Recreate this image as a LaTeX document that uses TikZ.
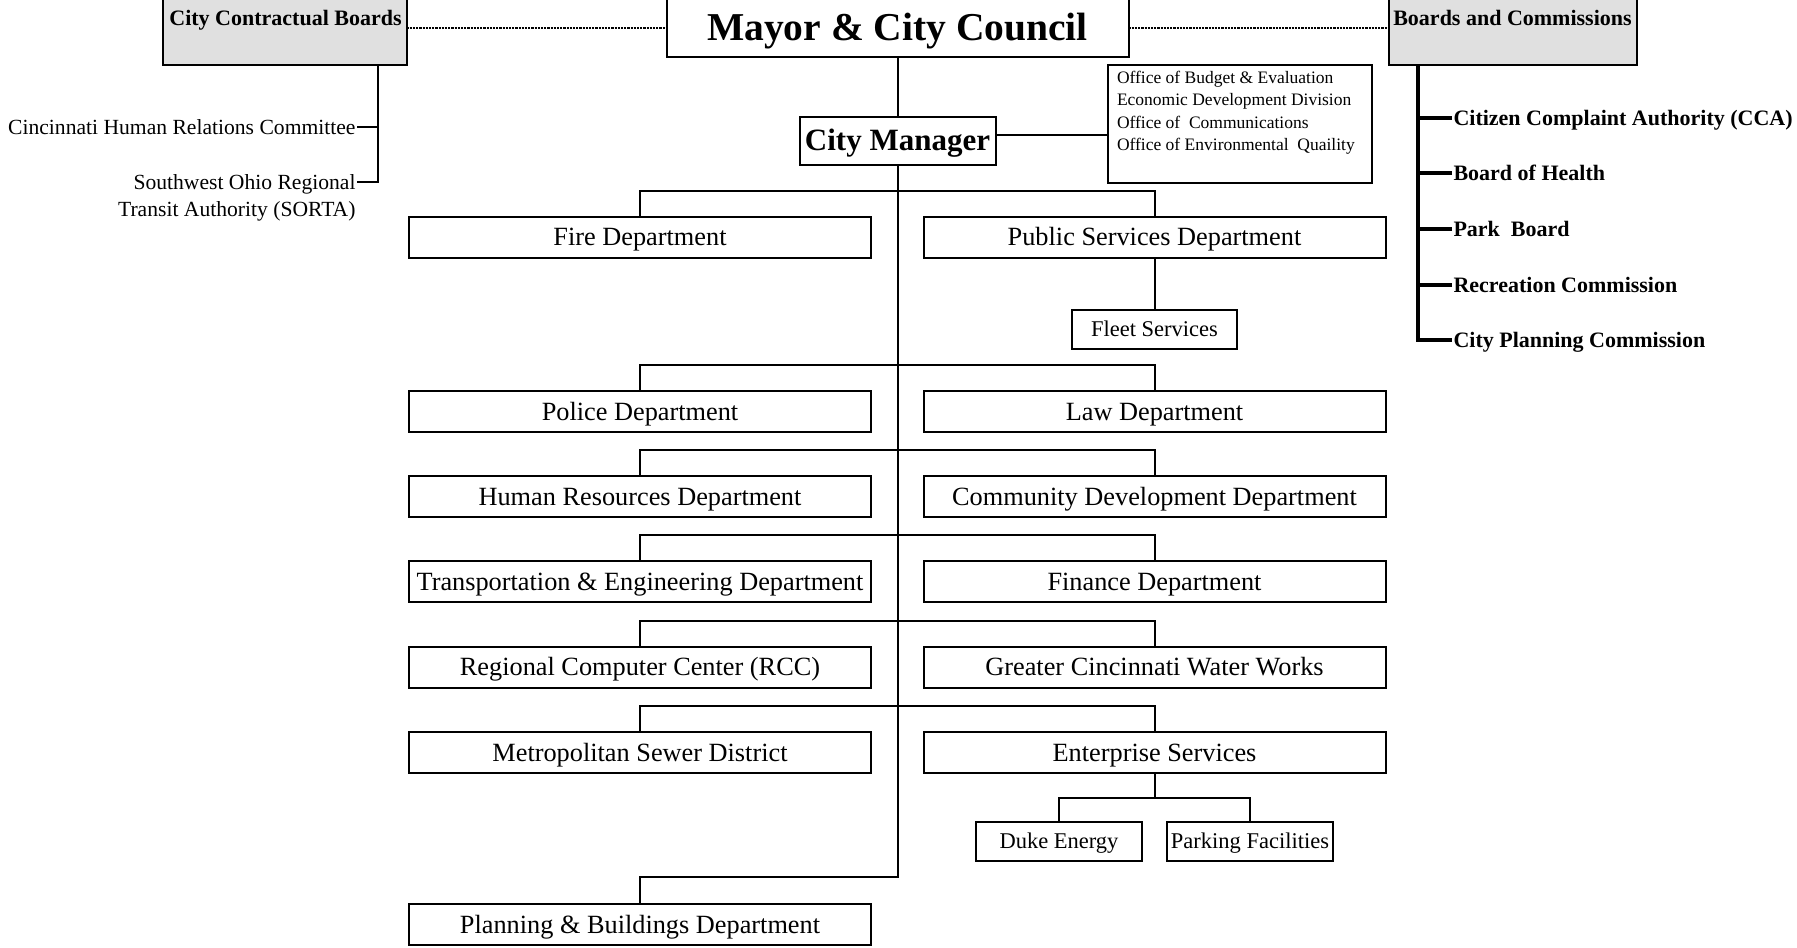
\documentclass[tikz,border=0pt]{standalone}
\usepackage{fontspec}
\setmainfont{Liberation Serif}
\definecolor{boardgray}{RGB}{224,224,224}
\begin{document}
\begin{tikzpicture}[x=1pt,y=-1pt,
  every node/.style={inner sep=0pt, outer sep=0pt, text depth=0pt},
  box/.style={draw, line width=2pt, rectangle},
  dept/.style={box, minimum width=462pt, minimum height=41pt, text height=17.4pt,
    font=\fontsize{26.3}{30}\selectfont},
  subunit/.style={box, minimum width=165pt, minimum height=39pt, text height=14.8pt,
    font=\fontsize{22.5}{26}\selectfont},
  boardbox/.style={box, fill=boardgray, minimum height=75pt},
  boardtitle/.style={font=\bfseries\fontsize{22}{26}\selectfont, text height=14.6pt},
  boarditem/.style={font=\bfseries\fontsize{22}{26}\selectfont, text height=14.6pt,
    inner xsep=1.5pt, anchor=west},
  contractitem/.style={font=\fontsize{21.6}{26}\selectfont, text height=14.3pt,
    inner xsep=1.5pt, anchor=east},
  officeline/.style={font=\fontsize{17.5}{22}\selectfont, anchor=base west, text depth=},
  link/.style={line width=2pt},
  cside/.style={line width=2.7pt},
  bside/.style={line width=4pt},
  dotline/.style={line width=2pt, dash pattern=on 2.2pt off 1pt}
]
\useasboundingbox (0,0) rectangle (1797,948);

% top level
\node[box, minimum width=462pt, minimum height=58.5pt, text height=26pt,
      font=\bfseries\fontsize{39.5}{44}\selectfont] (mayor) at (897.5,27.75) {Mayor \& City Council};
\node[boardbox, minimum width=244pt] (ccb) at (284.5,27.5) {};
\node[boardtitle] (ccbt) at (285.5,18) {City Contractual Boards};
\node[boardbox, minimum width=248pt] (bc) at (1512.5,27.5) {};
\node[boardtitle] (bct) at (1512.5,18) {Boards and Commissions};
\draw[dotline] (ccb.east) -- (ccb.east -| mayor.west);
\draw[dotline] (mayor.east |- bc.west) -- (bc.west);

% city contractual boards
\node[contractitem] (chrc) at (357,127) {Cincinnati Human Relations Committee};
\node[contractitem] (sorta1) at (357,182) {Southwest Ohio Regional};
\node[contractitem] (sorta2) at (357,209) {Transit Authority (SORTA)};
\draw[cside] ([xshift=93.5pt]ccb.south) |- (sorta1.east);
\draw[cside] (chrc.east) -- ++(21,0);

% boards and commissions
\node[boarditem] (cca) at (1452,118) {Citizen Complaint Authority (CCA)};
\node[boarditem] (boh) at (1452,173) {Board of Health};
\node[boarditem] (park) at (1452,229) {Park\ \ Board};
\node[boarditem] (rec) at (1452,285) {Recreation Commission};
\node[boarditem] (cpc) at (1452,340) {City Planning Commission};
\draw[bside] ([xshift=-94.5pt]bc.south) |- (cpc.west);
\foreach \n in {cca,boh,park,rec}{\draw[bside] (\n.west) -- ++(-34,0);}

% city manager and staff offices
\node[box, minimum width=196pt, minimum height=48pt, text height=20.5pt,
      font=\bfseries\fontsize{31}{36}\selectfont] (cm) at (897.5,140.5) {City Manager};
\node[box, minimum width=264pt, minimum height=118pt] (offices) at (1239.5,123.5) {};
\node[officeline] (off1) at (1117,83) {Office of Budget \& Evaluation};
\node[officeline] (off2) at (1117,105.5) {Economic Development Division};
\node[officeline] (off3) at (1117,128) {Office of\ \ Communications};
\node[officeline] (off4) at (1117,150.5) {Office of Environmental\ \ Quaility};
\draw[link] (mayor.south) -- (cm.north);
\coordinate (cmtap) at ([yshift=5.5pt]cm.east);
\draw[link] (cmtap) -- (offices.west |- cmtap);

% departments
\node[dept] (fire) at (640,237) {Fire Department};
\node[dept] (pub)  at (1154.5,237) {Public Services Department};
\node[subunit] (fleet) at (1154.5,329) {Fleet Services};
\node[dept] (police) at (640,411.5) {Police Department};
\node[dept] (law)    at (1154.5,411.5) {Law Department};
\node[dept] (hr)     at (640,496.5) {Human Resources Department};
\node[dept] (comdev) at (1154.5,496.5) {Community Development Department};
\node[dept] (trans)  at (640,581.5) {Transportation \& Engineering Department};
\node[dept] (fin)    at (1154.5,581.5) {Finance Department};
\node[dept] (rcc)    at (640,667) {Regional Computer Center (RCC)};
\node[dept] (water)  at (1154.5,667) {Greater Cincinnati Water Works};
\node[dept] (msd)    at (640,752.5) {Metropolitan Sewer District};
\node[dept] (ent)    at (1154.5,752.5) {Enterprise Services};
\node[subunit, minimum width=166pt] (duke) at (1059,841.5) {Duke Energy};
\node[subunit, minimum width=166pt] (parkf) at (1250,841.5) {Parking Facilities};
\node[dept] (plan)   at (640,924.5) {Planning \& Buildings Department};

% trunk and branches
\coordinate (trunkend) at (897.5,877);
\draw[link] (cm.south) -- (trunkend) -| (plan.north);
\foreach \l/\r in {fire/pub,police/law,hr/comdev,trans/fin,rcc/water,msd/ent}{
  \draw[link] (\l.north) -- ++(0,-26) -| (\r.north);
}
\draw[link] (pub.south) -- (fleet.north);
\draw[link] (ent.south) -- ++(0,24);
\draw[link] (duke.north) -- ++(0,-24) -| (parkf.north);
\end{tikzpicture}
\end{document}
